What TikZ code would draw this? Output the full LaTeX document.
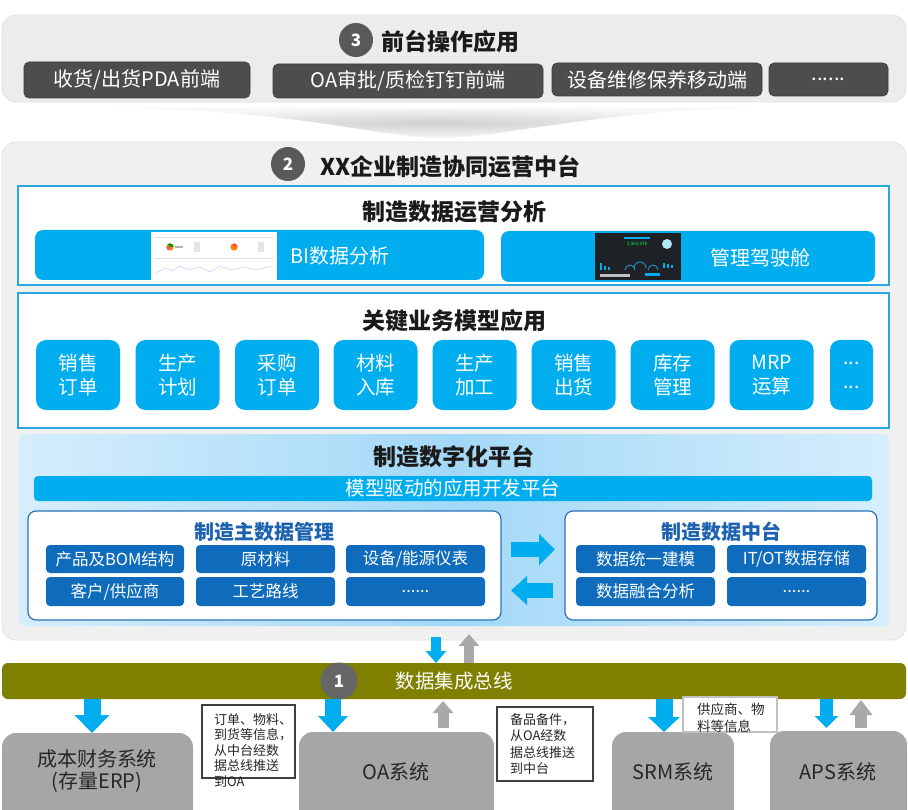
\documentclass[tikz,border=0pt]{standalone}
\usepackage{fontspec}
\setmainfont{Noto Sans CJK SC}
\usetikzlibrary{arrows.meta,calc}
\newcommand\myfs[2]{\fontsize{#1}{#2}\selectfont}
\definecolor{panelgray}{HTML}{ECECEC}
\definecolor{panelline}{HTML}{E2E2E2}
\definecolor{mainpanel}{HTML}{F0F0F0}
\definecolor{btngray}{HTML}{4D4D4D}
\definecolor{btnline}{HTML}{3C3C3C}
\definecolor{circgray}{HTML}{595959}
\definecolor{circone}{HTML}{666666}
\definecolor{secblue}{HTML}{2AA7E1}
\definecolor{cyanA}{HTML}{00AEEF}
\definecolor{pfEdge}{HTML}{D6EEFC}
\definecolor{pfMid}{HTML}{A2D8F7}
\definecolor{dblue}{HTML}{0F6CBD}
\definecolor{lboxline}{HTML}{2A72B8}
\definecolor{titleblue}{HTML}{1D62B0}
\definecolor{busolive}{HTML}{7F7F00}
\definecolor{sysgray}{HTML}{A6A6A6}
\definecolor{systext}{HTML}{262626}
\definecolor{arrowgray}{HTML}{A9A9A9}
\definecolor{notedark}{HTML}{404040}
\definecolor{notelight}{HTML}{C0C0C0}
\definecolor{darkthumb}{HTML}{1E2226}
\definecolor{titleblack}{HTML}{1A1A1A}
\definecolor{shadowgray}{HTML}{D0D0D0}
\definecolor{shadowedge}{HTML}{F7F7F7}
\tikzset{
  fat/.style n args={3}{line width=#1, -{Triangle[length=#3,width=#2]}},
  panel/.style={rounded corners=14pt, fill=panelgray, draw=panelline, line width=0.8pt},
  topbtn/.style={rounded corners=5pt, fill=btngray, draw=btnline, line width=0.6pt, text=white, font=\myfs{20}{22}},
  numcirc/.style={circle, fill=circgray, text=white, font=\bfseries\myfs{17}{17}, minimum size=34pt},
  bigtitle/.style={font=\bfseries\myfs{23}{25}, text=titleblack},
  secbox/.style={fill=white, draw=secblue, line width=1.4pt},
  cyanbox/.style={rounded corners=8pt, fill=cyanA},
  tile/.style={rounded corners=10pt, fill=cyanA, text=white, align=center, font=\myfs{19.5}{24}, minimum width=84pt, minimum height=70pt},
  whitebox/.style={rounded corners=8pt, fill=white, draw=lboxline, line width=1.2pt},
  boxtitle/.style={font=\bfseries\myfs{20}{22}, text=titleblue},
  cell/.style={rounded corners=4pt, fill=dblue, text=white, font=\myfs{16.5}{19}, minimum width=139pt},
  sysbox/.style={rounded corners=14pt, fill=sysgray},
  systxt/.style={text=systext, font=\myfs{20}{22}, align=center},
  notebox/.style={fill=white, draw=notedark, line width=1.2pt},
  notetxt/.style={text=systext, align=left, anchor=north west},
}
\begin{document}
\begin{tikzpicture}[x=1pt,y=-1pt, every node/.style={inner sep=0pt, outer sep=0pt}]
\useasboundingbox (0,0) rectangle (908,810);
\fill[white] (0,0) rectangle (908,810);

% ---------- top panel ----------
\node[panel, minimum width=904pt, minimum height=87pt] (top) at (454,58.5) {};
\node[numcirc] (c3) at (356,40) {3};
\node[bigtitle, anchor=west] (t3) at (381,42) {前台操作应用};
\node[topbtn, minimum width=226pt, minimum height=36pt] (b1) at (137,80) {收货/出货PDA前端};
\node[topbtn, minimum width=270pt, minimum height=34pt] (b2) at (408,81) {OA审批/质检钉钉前端};
\node[topbtn, minimum width=210pt, minimum height=33pt] (b3) at (657,79.5) {设备维修保养移动端};
\node[topbtn, minimum width=119pt, minimum height=33pt] (b4) at (828.5,79.5) {......};

% shadow under top panel
\shade[inner color=shadowgray, outer color=shadowedge]
  (116,108) .. controls (300,110) and (380,138) .. (440,138)
  .. controls (500,138) and (600,110) .. (753,108) -- cycle;

% ---------- main panel ----------
\node[panel, fill=mainpanel, minimum width=904pt, minimum height=498pt] (main) at (454,391) {};
\node[numcirc] (c2) at (288,164) {2};
\node[font=\bfseries\myfs{23}{25}, text=titleblack, anchor=west] (t2) at (320,167) {XX企业制造协同运营中台};

% section 1
\node[secbox, minimum width=871pt, minimum height=99pt] (s1) at (453.5,235.5) {};
\node[bigtitle] (s1t) at (454,212) {制造数据运营分析};
\node[cyanbox, minimum width=449pt, minimum height=50pt] (bi) at (259.5,255) {};
\node[fill=white, minimum width=126pt, minimum height=48pt] (bithumb) at (214,256) {};
\draw[gray!25, line width=0.4pt] (154,237) -- (274,237);
\draw[gray!25, line width=0.4pt] (154,258) -- (274,258);
\draw[blue!20, line width=0.5pt] (156,273) -- (166,268) -- (172,271) -- (180,266) -- (190,270) -- (200,267) -- (210,272) -- (220,266) -- (232,270) -- (244,267) -- (256,270) -- (272,266);
\fill[orange] (170,247) circle (3.6pt);
\fill[green!60!black] (170,247) -- ++(3.6,0) arc[start angle=0,end angle=130,radius=3.6pt] -- cycle;
\fill[magenta!70] (170,247) -- ++(-3.6,0) arc[start angle=180,end angle=250,radius=3.6pt] -- cycle;
\fill[gray!60] (175,246) rectangle (183,248);
\fill[orange] (234,247) circle (3.6pt);
\fill[red!70] (234,247) -- ++(3.6,0) arc[start angle=0,end angle=100,radius=3.6pt] -- cycle;
\fill[gray!20] (194,242) rectangle (200,252);
\fill[gray!20] (258,242) rectangle (264,252);
\node[anchor=west, text=white, font=\myfs{20}{22}] (bit) at (290,256) {BI数据分析};

\node[cyanbox, minimum width=374pt, minimum height=51pt] (ck) at (688,256.5) {};
\node[fill=darkthumb, minimum width=86pt, minimum height=47pt] (ckthumb) at (638,256.5) {};
\fill[cyanA] (624,237) rectangle (650,239);
\node[text=green!70!cyan, font=\myfs{4.5}{5}] (cknum) at (637,244) {2,963,978};
\fill[cyan!30] (667,244) circle (5pt);
\fill[cyanA] (600,263) rectangle (602,270);
\fill[cyanA] (604,266) rectangle (606,270);
\fill[cyanA] (608,267) rectangle (610,270);
\draw[cyan!70!teal, line width=0.8pt] (625,270) arc[start angle=180,end angle=0,radius=5pt];
\draw[cyan!70!teal, line width=0.8pt] (634,268) arc[start angle=180,end angle=0,radius=6pt];
\draw[cyan!70!teal, line width=0.8pt] (648,270) arc[start angle=180,end angle=0,radius=5pt];
\fill[cyanA] (663,263) rectangle (665,268);
\fill[cyanA] (667,264) rectangle (669,268);
\fill[cyanA] (671,265) rectangle (673,268);
\fill[gray!50] (600,274) rectangle (630,277);
\fill[cyanA] (645,273) rectangle (660,276);
\node[anchor=west, text=white, font=\myfs{20}{22}] (ckt) at (710,258) {管理驾驶舱};

% section 2
\node[secbox, minimum width=871pt, minimum height=135pt] (s2) at (453.5,360.5) {};
\node[bigtitle] (s2t) at (454,321) {关键业务模型应用};
\node[tile] (m1) at (78,375) {销售\\订单};
\node[tile] (m2) at (177.5,375) {生产\\计划};
\node[tile] (m3) at (277,375) {采购\\订单};
\node[tile] (m4) at (375.5,375) {材料\\入库};
\node[tile] (m5) at (474.5,375) {生产\\加工};
\node[tile] (m6) at (573.5,375) {销售\\出货};
\node[tile] (m7) at (672.5,375) {库存\\管理};
\node[tile] (m8) at (771.5,375) {MRP\\运算};
\node[tile, minimum width=43pt] (m9) at (851.5,375) {...\\...};

% platform
\node[rounded corners=6pt, left color=pfEdge, right color=pfEdge, middle color=pfMid, minimum width=870pt, minimum height=192pt] (pf) at (454,530) {};
\node[bigtitle] (pft) at (454,457) {制造数字化平台};
\node[rounded corners=4pt, fill=cyanA, minimum width=838pt, minimum height=25pt, text=white, font=\myfs{19.5}{22}] (bar) at (453,488.5) {模型驱动的应用开发平台};

\node[whitebox, minimum width=473pt, minimum height=109pt] (lbox) at (264.5,565.5) {};
\node[boxtitle] (lboxt) at (264,532) {制造主数据管理};
\node[cell, minimum width=138pt, minimum height=28pt] (l11) at (115,559) {产品及BOM结构};
\node[cell, minimum height=28pt] (l12) at (265.5,559) {原材料};
\node[cell, minimum height=28pt] (l13) at (415.5,559) {设备/能源仪表};
\node[cell, minimum width=138pt, minimum height=29pt] (l21) at (115,591.5) {客户/供应商};
\node[cell, minimum height=29pt] (l22) at (265.5,591.5) {工艺路线};
\node[cell, minimum height=29pt] (l23) at (415.5,591.5) {......};

\node[whitebox, minimum width=312pt, minimum height=109pt] (rbox) at (721,565.5) {};
\node[boxtitle] (rboxt) at (721,532) {制造数据中台};
\node[cell, minimum height=28pt] (r11) at (645.5,559) {数据统一建模};
\node[cell, minimum height=28pt] (r12) at (796.5,559) {IT/OT数据存储};
\node[cell, minimum height=29pt] (r21) at (645.5,591.5) {数据融合分析};
\node[cell, minimum height=29pt] (r22) at (796.5,591.5) {......};

\draw[fat={15pt}{31pt}{16pt}, draw=cyanA] ($(lbox.east)+(10,-16)$) -- ($(rbox.west)+(-10,-16)$);
\draw[fat={15pt}{28pt}{16pt}, draw=cyanA] ($(rbox.west)+(-12,25)$) -- ($(lbox.east)+(10,25)$);

% ---------- bus ----------
\node[rounded corners=6pt, fill=busolive, minimum width=904pt, minimum height=36pt, text=white, font=\myfs{19.5}{22}] (bus) at (454,681) {数据集成总线};
\node[numcirc, fill=circone, minimum size=37pt] (c1) at (339,681) {1};

\draw[fat={10pt}{20pt}{12pt}, draw=cyanA] ($(436,0 |- main.south)+(0,-3)$) -- (436,0 |- bus.north);
\draw[fat={10pt}{20pt}{12pt}, draw=arrowgray] (469,0 |- bus.north) -- ($(469,0 |- main.south)+(0,-6)$);

% ---------- systems ----------
\node[sysbox, minimum width=191pt, minimum height=97pt] (erp) at (97.5,781.5) {};
\node[systxt, font=\myfs{20}{22}] (erpt) at (97,771) {成本财务系统\\(存量ERP)};
\node[sysbox, minimum width=195pt, minimum height=98pt] (oa) at (396.5,781) {};
\node[systxt] (oat) at (396,772) {OA系统};
\node[sysbox, minimum width=122pt, minimum height=98pt] (srm) at (673,781) {};
\node[systxt] (srmt) at (673,772) {SRM系统};
\node[sysbox, minimum width=137pt, minimum height=100pt] (aps) at (838.5,781) {};
\node[systxt] (apst) at (838,772) {APS系统};

\draw[fat={17pt}{34pt}{18pt}, draw=cyanA] (92,0 |- bus.south) -- (92,0 |- erp.north);
\draw[fat={16pt}{29pt}{16pt}, draw=cyanA] (333,0 |- bus.south) -- (333,0 |- oa.north);
\draw[fat={11pt}{20pt}{12pt}, draw=arrowgray] ($(443,0 |- oa.north)+(0,-4)$) -- ($(443,0 |- bus.south)+(0,2)$);
\draw[fat={17pt}{31pt}{15pt}, draw=cyanA] (664,0 |- bus.south) -- (664,0 |- srm.north);
\draw[fat={13pt}{23pt}{12pt}, draw=cyanA] (826.5,0 |- bus.south) -- ($(826.5,0 |- aps.north)+(0,-3)$);
\draw[fat={12pt}{22pt}{15pt}, draw=arrowgray] ($(861,0 |- aps.north)+(0,-3)$) -- ($(861,0 |- bus.south)+(0,1)$);

% ---------- notes ----------
\node[notebox, minimum width=93pt, minimum height=73pt] (n1) at (248.5,741.5) {};
\node[notetxt, font=\myfs{13}{15.5}] (n1t) at (214,713.5) {订单、物料、\\到货等信息，\\从中台经数\\据总线推送\\到OA};
\node[notebox, minimum width=96pt, minimum height=74pt] (n2) at (545,744) {};
\node[notetxt, font=\myfs{13}{16.3}] (n2t) at (510,713.5) {备品备件，\\从OA经数\\据总线推送\\到中台};
\node[notebox, draw=notelight, minimum width=94pt, minimum height=35pt] (n3) at (730,714.5) {};
\node[notetxt, font=\myfs{13.5}{17}] (n3t) at (697,703) {供应商、物\\料等信息};
\end{tikzpicture}
\end{document}
